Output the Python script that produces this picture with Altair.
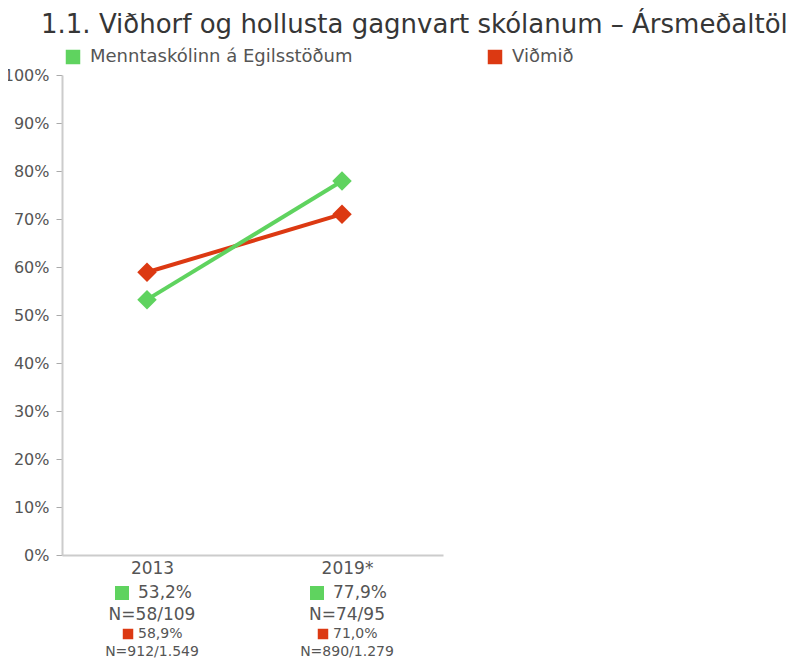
import altair as alt
import pandas as pd

years = ["2013", "2019*"]
series = ["Menntaskólinn á Egilsstöðum", "Viðmið"]
school_values = [53.2, 77.9]
bench_values = [58.9, 71.0]
school_labels = ["53,2%", "77,9%"]
school_n = ["N=58/109", "N=74/95"]
bench_labels = ["58,9%", "71,0%"]
bench_n = ["N=912/1.549", "N=890/1.279"]
colors = ["#5fd35f", "#dc3912"]
y_ticks = [0, 10, 20, 30, 40, 50, 60, 70, 80, 90, 100]
title_text = "1.1. Viðhorf og hollusta gagnvart skólanum – Ársmeðaltöl"

FONT = "DejaVu Sans"
TXT = "#555555"

long_df = pd.DataFrame({
    "year": years * 2,
    "series": [series[0]] * 2 + [series[1]] * 2,
    "value": school_values + bench_values,
})
ann_df = pd.DataFrame({
    "year": years,
    "s_lab": school_labels,
    "s_n": school_n,
    "b_lab": bench_labels,
    "b_n": bench_n,
})

x_scale = alt.Scale(type="point", padding=0.477, align=0.457)
x_enc = alt.X("year:N", sort=years, scale=x_scale,
              axis=alt.Axis(title=None, labelAngle=0, ticks=False, labelFontSize=17,
                            labelColor=TXT, labelFont=FONT, labelPadding=5, labelOffset=5,
                            domainColor="#cccccc", domainWidth=2, grid=False))
y_enc = alt.Y("value:Q", scale=alt.Scale(domain=[0, 100]),
              axis=alt.Axis(title=None, values=y_ticks, labelExpr="datum.value + '%'",
                            labelFontSize=16, labelColor=TXT, labelFont=FONT,
                            tickColor="#aaaaaa", tickSize=6, labelPadding=7,
                            domainColor="#cccccc", domainWidth=2, grid=False))
color_enc = alt.Color("series:N", scale=alt.Scale(domain=series, range=colors),
                      legend=alt.Legend(orient="none", legendX=2, legendY=-27,
                                        direction="horizontal", title=None,
                                        symbolType="square", symbolSize=210,
                                        symbolStrokeWidth=0, labelFontSize=18,
                                        labelColor=TXT, labelFont=FONT, labelLimit=400,
                                        labelOffset=8, columnPadding=133))

base = alt.Chart(long_df)
red_line = base.transform_filter(alt.datum.series == series[1]).mark_line(strokeWidth=4).encode(
    x=x_enc, y=y_enc, color=color_enc)
green_line = base.transform_filter(alt.datum.series == series[0]).mark_line(strokeWidth=4).encode(
    x=x_enc, y=y_enc, color=color_enc)
red_pts = base.transform_filter(alt.datum.series == series[1]).mark_point(
    shape="diamond", filled=True, size=380, opacity=1).encode(x=x_enc, y=y_enc, color=color_enc)
green_pts = base.transform_filter(alt.datum.series == series[0]).mark_point(
    shape="diamond", filled=True, size=380, opacity=1).encode(x=x_enc, y=y_enc, color=color_enc)

ann = alt.Chart(ann_df)
xa = alt.X("year:N", sort=years, scale=x_scale)
g_sq = ann.mark_square(size=196, color=colors[0], opacity=1, xOffset=-25).encode(
    x=xa, y=alt.value(518))
g_txt = ann.mark_text(align="left", baseline="middle", dx=-9, fontSize=17, font=FONT,
                      color=TXT).encode(x=xa, y=alt.value(518), text="s_lab:N")
g_n = ann.mark_text(align="center", baseline="middle", dx=5, fontSize=17, font=FONT,
                    color=TXT).encode(x=xa, y=alt.value(540), text="s_n:N")
r_sq = ann.mark_square(size=110, color=colors[1], opacity=1, xOffset=-19).encode(
    x=xa, y=alt.value(559))
r_txt = ann.mark_text(align="left", baseline="middle", dx=-9, fontSize=14, font=FONT,
                      color=TXT).encode(x=xa, y=alt.value(559), text="b_lab:N")
r_n = ann.mark_text(align="center", baseline="middle", dx=5, fontSize=14, font=FONT,
                    color=TXT).encode(x=xa, y=alt.value(577), text="b_n:N")

chart = alt.layer(red_line, green_line, red_pts, green_pts,
                  g_sq, g_txt, g_n, r_sq, r_txt, r_n).properties(
    width=381, height=480,
    title=alt.TitleParams(title_text, anchor="start", frame="group", dx=-21, offset=10,
                          fontSize=26, font=FONT, color="#363636", fontWeight="normal"),
    padding={"left": 54, "top": 67, "right": 347, "bottom": 106},
    autosize="none",
).configure_view(stroke=None)

chart.save("out.html", embed_options={"renderer": "svg", "actions": False})
